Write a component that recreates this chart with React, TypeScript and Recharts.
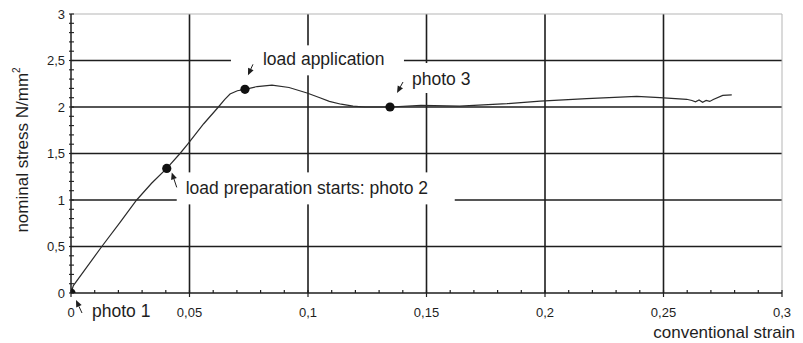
import React from 'react';
import { ComposedChart, Line, Scatter, XAxis, YAxis, ReferenceLine, ReferenceDot, Label } from 'recharts';

const strain = [
  0, 0.001, 0.013, 0.0207, 0.0277, 0.034, 0.0404, 0.046, 0.0495, 0.056, 0.0622, 0.0648, 0.0671,
  0.0702, 0.0734, 0.0785, 0.0848, 0.092, 0.0996, 0.105, 0.109, 0.114, 0.119, 0.124, 0.1346, 0.1477,
  0.164, 0.184, 0.198, 0.2176, 0.2387, 0.2485, 0.2598, 0.262, 0.2635, 0.265, 0.2665, 0.268, 0.2695,
  0.271, 0.275, 0.2788,
];
const stress = [
  0, 0.08, 0.5, 0.76, 1.0, 1.18, 1.34, 1.5, 1.61, 1.82, 2.0, 2.08, 2.14,
  2.175, 2.19, 2.22, 2.235, 2.21, 2.15, 2.1, 2.06, 2.03, 2.01, 2.0, 2.0, 2.018,
  2.01, 2.036, 2.064, 2.09, 2.115, 2.1, 2.083, 2.07, 2.055, 2.075, 2.05, 2.07, 2.06,
  2.08, 2.125, 2.13,
];

// photographed states
const keyStrain = [0, 0.0404, 0.0734, 0.1346];
const keyStress = [0, 1.34, 2.19, 2.0];
const keyNotes = ['photo 1', 'load preparation starts: photo 2', 'load application', 'photo 3'];

const xGrid = [0.05, 0.1, 0.15, 0.2, 0.25];
const yGrid = [0.5, 1, 1.5, 2, 2.5];
const xTicks = [
  0, 0.01, 0.02, 0.03, 0.04, 0.05, 0.06, 0.07, 0.08, 0.09, 0.1, 0.11, 0.12, 0.13, 0.14, 0.15, 0.16,
  0.17, 0.18, 0.19, 0.2, 0.21, 0.22, 0.23, 0.24, 0.25, 0.26, 0.27, 0.28, 0.29, 0.3,
];
const yTicks = [
  0, 0.1, 0.2, 0.3, 0.4, 0.5, 0.6, 0.7, 0.8, 0.9, 1, 1.1, 1.2, 1.3, 1.4, 1.5, 1.6, 1.7, 1.8, 1.9, 2,
  2.1, 2.2, 2.3, 2.4, 2.5, 2.6, 2.7, 2.8, 2.9, 3,
];

const curve = strain.map((s, i) => ({ strain: s, stress: stress[i] }));
const keyPoints = keyStrain.map((s, i) => ({ strain: s, stress: keyStress[i] }));

// callout layout, in px relative to the marked point
const calloutLayout = [
  { tx: 21, ty: 24, tip: [5, 7], tail: [11, 20], box: null },
  { tx: 19, ty: 26, tip: [5, 4], tail: [10, 19], box: [10, 4, 278, 32] },
  { tx: 18, ty: -24, tip: [3, -14], tail: [8, -25], box: [-14, -44, 173, 30] },
  { tx: 22, ty: -22, tip: [7, -14], tail: [13, -25], box: [15, -44, 80, 30] },
];

const FONT = '"Liberation Sans", Arial, sans-serif';
const INK = '#1e1e1e';

const isMultiple = (v: number, step: number) => Math.abs(v / step - Math.round(v / step)) < 1e-6;
const fmt = (v: number) => String(Math.round(v * 100) / 100).replace('.', ',');

function XTick({ x, y, payload }: any) {
  const major = isMultiple(payload.value, 0.05);
  return (
    <g>
      <line x1={x} x2={x} y1={y - 3} y2={major ? y + 4 : y} stroke={INK} strokeWidth={1.2} />
      {major && (
        <text x={x} y={y + 24} textAnchor="middle" fontSize={13} fontFamily={FONT} fill={INK}>
          {fmt(payload.value)}
        </text>
      )}
    </g>
  );
}

function YTick({ x, y, payload }: any) {
  const major = isMultiple(payload.value, 0.5);
  return (
    <g>
      <line x1={x - 2} x2={x + 3} y1={y} y2={y} stroke={INK} strokeWidth={1.1} />
      {major && (
        <text x={x - 6} y={y + 4.5} textAnchor="end" fontSize={13} fontFamily={FONT} fill={INK}>
          {fmt(payload.value)}
        </text>
      )}
    </g>
  );
}

function Callout({ cx, cy, idx }: any) {
  const l = calloutLayout[idx];
  const tipX = cx + l.tip[0];
  const tipY = cy + l.tip[1];
  const tailX = cx + l.tail[0];
  const tailY = cy + l.tail[1];
  const len = Math.hypot(tipX - tailX, tipY - tailY);
  const ux = (tipX - tailX) / len;
  const uy = (tipY - tailY) / len;
  const bx = tipX - ux * 7;
  const by = tipY - uy * 7;
  const head = `${tipX},${tipY} ${bx - uy * 3},${by + ux * 3} ${bx + uy * 3},${by - ux * 3}`;
  return (
    <g>
      {l.box && <rect x={cx + l.box[0]} y={cy + l.box[1]} width={l.box[2]} height={l.box[3]} fill="#fff" />}
      <line x1={tailX} y1={tailY} x2={bx} y2={by} stroke={INK} strokeWidth={1} />
      <polygon points={head} fill={INK} />
      <text x={cx + l.tx} y={cy + l.ty} fontSize={17.5} fontFamily={FONT} fill={INK}>
        {keyNotes[idx]}
      </text>
    </g>
  );
}

export default function App() {
  return (
    <div style={{ position: 'absolute', left: 0, top: 0, width: 803, height: 343, background: '#fff' }}>
      <ComposedChart width={803} height={343} margin={{ top: 14, right: 21, bottom: 20, left: 0 }}>
        <XAxis
          type="number"
          dataKey="strain"
          domain={[0, 0.3]}
          ticks={xTicks}
          interval={0}
          allowDataOverflow
          height={30}
          tickSize={0}
          tickMargin={0}
          tickLine={false}
          axisLine={{ stroke: INK, strokeWidth: 1.5 }}
          tick={<XTick />}
        >
          <Label
            content={({ viewBox }: any) => (
              <text
                x={viewBox.x + viewBox.width + 13}
                y={viewBox.y + 45}
                textAnchor="end"
                fontSize={17}
                fontFamily={FONT}
                fill={INK}
              >
                conventional strain
              </text>
            )}
          />
        </XAxis>
        <YAxis
          type="number"
          dataKey="stress"
          domain={[0, 3]}
          ticks={yTicks}
          interval={0}
          allowDataOverflow
          width={71}
          tickSize={0}
          tickMargin={0}
          tickLine={false}
          axisLine={{ stroke: INK, strokeWidth: 1.5 }}
          tick={<YTick />}
        >
          <Label
            content={({ viewBox }: any) => {
              const cx = 28;
              const cy = viewBox.y + 136;
              return (
                <text
                  x={cx}
                  y={cy}
                  textAnchor="middle"
                  transform={`rotate(-90 ${cx} ${cy})`}
                  fontSize={17}
                  fontFamily={FONT}
                  fill={INK}
                >
                  nominal stress N/mm
                  <tspan fontSize={10} dy={-8}>2</tspan>
                </text>
              );
            }}
          />
        </YAxis>

        {xGrid.map((v) => (
          <ReferenceLine key={`vx${v}`} x={v} stroke={INK} strokeWidth={1.6} />
        ))}
        {yGrid.map((v) => (
          <ReferenceLine key={`hy${v}`} y={v} stroke={INK} strokeWidth={1.6} />
        ))}
        <ReferenceLine x={0.3} stroke="#b5b5b5" strokeWidth={1} />
        <ReferenceLine y={3} stroke="#b5b5b5" strokeWidth={1} />

        {keyPoints.map((p, i) => (
          <ReferenceDot
            key={keyNotes[i]}
            x={p.strain}
            y={p.stress}
            ifOverflow="visible"
            shape={(props: any) => <Callout {...props} idx={i} />}
          />
        ))}

        <Line
          data={curve}
          dataKey="stress"
          type="linear"
          stroke="#2b2b2b"
          strokeWidth={1.2}
          dot={false}
          isAnimationActive={false}
        />
        <Scatter
          data={keyPoints}
          dataKey="stress"
          fill="#111"
          isAnimationActive={false}
          shape={({ cx, cy }: any) => <circle cx={cx} cy={cy} r={4.6} fill="#111" />}
        />
      </ComposedChart>
    </div>
  );
}
